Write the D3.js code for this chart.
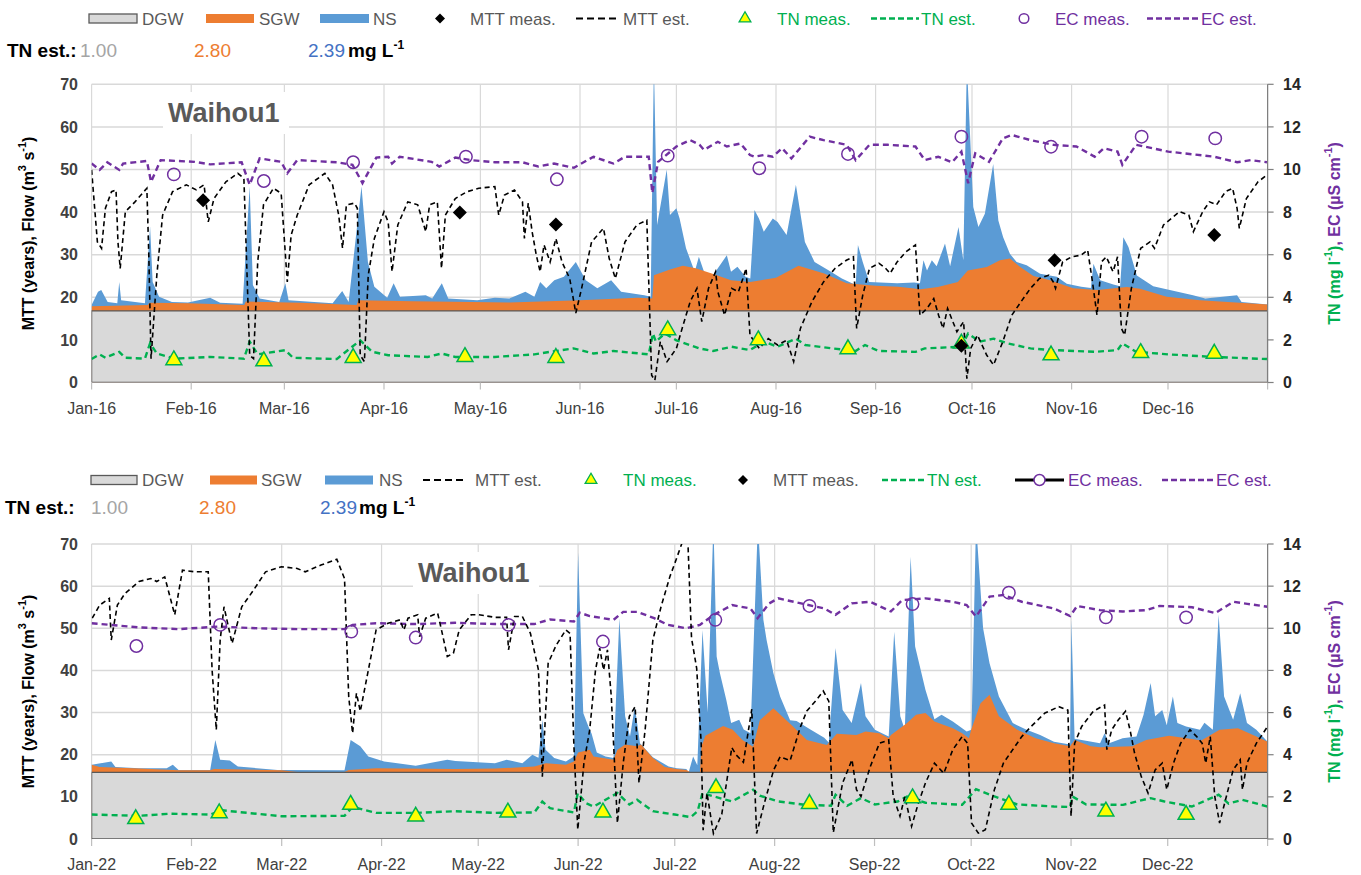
<!DOCTYPE html>
<html><head><meta charset="utf-8">
<script src="https://cdn.jsdelivr.net/npm/d3@7"></script>
<style>body{margin:0;background:#fff}svg{display:block;font-family:"Liberation Sans",Arial,sans-serif}</style>
</head><body><svg id="c" width="1361" height="875"></svg>
<script>
// ---------------- DATA ----------------
const leftTicks = [0,10,20,30,40,50,60,70];
const rightTicks = [0,2,4,6,8,10,12,14];
const tnEstLabels = ["1.00","2.80","2.39"];
const siteName = "Waihou1";
const dgwFlow = [16.8, 15.8]; // 2016, 2022

// 2016 — [day of year, value]
const sgwTop16 = [[0,17.9],[17.5,18.2],[18,18.7],[30,18.6],[47.5,18.2],[48,19.0],[65,18.7],[82.5,18.2],[83,19.3],[100,19.1],[130,18.8],[152,19.3],[170,19.9],[174.5,19.7],[175,25.2],[180,26.5],[184,27.4],[188,26.8],[193,25.6],[199,24.0],[205,23.6],[213,24.6],[220,27.4],[228,25.6],[235,23.3],[244,22.7],[251,22.5],[258,21.9],[263.4,22.4],[269.6,23.6],[272.7,26.3],[278.6,27.1],[282.7,28.7],[285.8,29.1],[289,27.1],[293.1,25],[298.3,24],[305.5,22.1],[313,21.7],[322.2,22.4],[326.3,22],[334.6,20.1],[345,19.3],[366,18.3]];
const nsTop16 = [[0,18.2],[2,21.3],[3,21.7],[5,18.9],[8,18.6],[8.6,23.6],[9.2,19.3],[16.6,18.6],[18.2,36.6],[19,23.6],[21,20.1],[25,18.9],[30,18.8],[36.9,19.9],[40,18.7],[47,18.5],[49.2,46],[50.2,22.9],[52.3,19.7],[58.4,18.9],[60.3,23.3],[61.3,19.3],[75,18.6],[78,21.5],[80,18.9],[84,46],[86,28.3],[88,22.5],[92,19.9],[94,23.3],[96,20.1],[104,20.5],[106,19.7],[109,23.3],[111,19.7],[120,19.3],[125.5,19.9],[130,19.7],[135,21.3],[137.8,20.1],[139.6,23.6],[141.5,22.1],[144,24.0],[147,24.8],[150.7,28.3],[153.8,24.0],[157.4,22.1],[161.7,24.0],[164.8,21.3],[172,20.5],[174,20.1],[175,75],[176,37],[179,50],[180,39.3],[182,40.9],[183,38.5],[185,31.5],[187.7,26],[189,29.5],[190.6,26],[193.4,25.2],[197.7,29.9],[199,26],[201,27.2],[203.5,24.8],[205,24.4],[206.3,40.5],[207.7,38.5],[209.2,35.4],[212,38.5],[213.5,37.7],[216.3,34.6],[219.2,46.4],[222,33],[225,28.3],[229.2,26.4],[233.5,24.4],[237.8,22.9],[238.5,32.3],[240,28.3],[242,23.6],[250.7,23.3],[256,23.5],[257.8,23.3],[258.9,28.7],[260,26.3],[261.5,28.7],[263,27.3],[265.6,32.6],[267.2,27.3],[269.8,36.5],[271.3,28.7],[272.4,75],[274.4,41.2],[276,36.5],[278,39.6],[280.6,51.3],[282.2,38],[283.7,34.1],[285.8,30.2],[287.9,28.3],[291,27.5],[295.2,25.5],[300.4,24.8],[303.5,23.2],[308,22.5],[311,22.2],[311.8,27.9],[313.9,24],[318,23],[320.1,22.6],[321.1,34.1],[322.7,31.8],[325.3,25.1],[330.4,22.6],[342.8,20.5],[346.6,19.7],[356.5,20.5],[357.9,18.9],[366,18.3]];
const mttEst16 = [[0,49.9],[1.8,33],[3.1,31.5],[4.3,40.9],[6.2,44.8],[7.6,45.2],[8.2,33],[8.9,26.8],[10.5,40.1],[13.5,42.4],[17.2,45.6],[17.8,30],[18.5,5.6],[20.3,25.2],[22.1,39.3],[25.2,44.8],[29.5,46.4],[32.6,45.2],[35,46.4],[36.3,37.7],[38.1,43.2],[41.8,47.1],[45.5,49.1],[47.4,47.9],[49.2,6.4],[50.4,5.6],[51.7,28.3],[53.5,41.7],[56.6,45.6],[59,44.4],[60.9,23.6],[62.1,34.6],[64,39.3],[67.7,46.4],[72.6,49.1],[75,46.4],[76.9,39.3],[78.1,31.5],[79.3,41.7],[81.8,42.1],[82.7,40.9],[83.6,6.4],[84.9,4.9],[86.1,25.2],[88,33.8],[91,40.1],[92.3,37.7],[93.5,26],[95.3,37],[98.4,42.4],[101.5,41.7],[104,35.4],[105.2,41.7],[107.6,42.4],[108.9,26.8],[110.1,39.3],[113.2,43.2],[116.9,44.8],[120.5,45.6],[125.5,46],[126.7,39.3],[128.5,44],[131.6,45.2],[134.1,42.4],[134.7,33.8],[135.9,42.1],[137.1,35.4],[138.4,29.9],[139.6,26],[140.8,32.3],[142.7,28.3],[144.5,33.8],[146.4,28.3],[148.8,24.4],[150.7,16.3],[152.5,22.1],[155.6,33],[159.3,36.2],[161.1,29.1],[163,24.4],[166,33],[169.7,37],[172.8,38.1],[174.3,1.7],[175.3,0.5],[177,9.6],[179.1,4.9],[182,8],[184.1,13.5],[186.3,19],[188.4,22.1],[189.9,14.3],[192,22.1],[194.2,26],[194.9,21.3],[197,15.8],[199.2,22.1],[201.3,21.3],[202.7,24.4],[203.7,26.8],[204.9,11.1],[206.3,9.6],[207.8,8],[210.6,10.3],[213.5,8.8],[216.3,9.9],[218.5,4.9],[220.6,12.7],[224.2,19],[227.8,23.6],[231.4,26.8],[234.9,28.7],[237.1,29.5],[238.1,12.7],[240,20.5],[242.1,26.8],[245,28],[247.1,26.8],[248.5,25.6],[250.7,28.3],[253.5,30.7],[256.4,32.3],[257.8,15.8],[260,17.4],[262.1,19.7],[263.6,15.8],[265,12.7],[266.4,17.4],[269.3,11.9],[271.4,14.3],[272.4,0.9],[273.6,8],[275.7,11.1],[278.6,6.4],[280.7,4.1],[283.6,9.6],[286.4,15.8],[289.3,19],[292.2,22.1],[295,24.4],[297.9,25.2],[299.3,23.6],[300,22.1],[302.2,28.3],[305,29.5],[308,29.9],[310,31.1],[311.5,23.6],[312.9,15.8],[314.3,28.3],[315.8,29.5],[317.9,26],[319.3,29.5],[320.5,12.7],[321.5,11.1],[323.6,22.1],[326.5,31.5],[329.4,33],[330.8,31.5],[333.6,37],[338.6,40.1],[341.5,39.3],[342.9,35.4],[345.8,40.1],[347.9,42.4],[350.1,41.7],[352.9,44.8],[355.1,45.6],[356.5,40.9],[357.2,36.2],[359.4,43.2],[363,47.1],[365.8,48.7]];
const mttMeas16 = [[34.7,42.8],[114.6,39.9],[144.5,37.1],[270.7,8.6],[299.7,28.7],[349.4,34.6]];
const tnMeas16 = [[25.6,1.05],[53.6,1.0],[81.4,1.16],[116.2,1.2],[144.5,1.16],[179.3,2.46],[207.5,1.99],[235.4,1.57],[270.7,1.83],[298.6,1.28],[326.5,1.39],[349.4,1.36]];
const tnEst16 = [[0,1.1],[2.5,1.32],[4.3,1.16],[8.6,1.44],[10.5,1.16],[16.6,1.12],[18.2,1.84],[20.3,1.36],[25.8,1.12],[36.9,1.2],[47.4,1.12],[49.2,1.92],[51.7,1.32],[60.3,1.52],[62.7,1.16],[76.3,1.1],[83.6,1.98],[87.3,1.44],[92.3,1.28],[104.6,1.2],[108.9,1.36],[113.2,1.2],[125.5,1.2],[137.8,1.32],[142.7,1.44],[150,1.6],[156.2,1.36],[162.4,1.48],[173.4,1.32],[174.7,2.3],[175.6,1.92],[178.4,2.3],[182,1.98],[189.2,1.6],[193.4,1.48],[199.2,1.68],[204.9,1.52],[209.2,1.92],[213.5,1.68],[219.2,2.06],[222.1,1.76],[230.6,1.6],[237.8,1.48],[240.7,1.76],[244.9,1.48],[256.4,1.44],[259.3,1.6],[270.7,1.68],[272.8,2.3],[276.4,1.92],[280.7,2.06],[285,1.84],[292.2,1.6],[299.3,1.52],[312.2,1.44],[319.3,1.52],[320.8,1.84],[325.1,1.44],[335.1,1.32],[349.4,1.2],[365.8,1.1]];
const ecMeas16 = [[25.6,9.77],[53.6,9.46],[81.4,10.34],[116.5,10.6],[144.8,9.54],[179.3,10.65],[207.8,10.06],[235.4,10.73],[270.7,11.54],[298.6,11.07],[326.8,11.54],[349.7,11.46]];
const ecEst16 = [[0,10.28],[2.5,9.98],[4.9,10.34],[8.6,9.98],[9.8,10.28],[17.2,10.4],[18.5,9.42],[21.5,10.44],[32,10.36],[36.9,10.24],[46.7,10.34],[49.2,9.28],[52.3,10.52],[59,10.36],[60.9,9.82],[64,10.44],[76.3,10.34],[81.2,10.22],[84.3,9.36],[88.6,10.56],[92.3,10.6],[93.5,10.28],[95.9,10.6],[105.8,10.36],[108.2,10.14],[113.2,10.56],[118.1,10.44],[125.5,10.34],[134.1,10.34],[139,10.14],[143.9,10.28],[150.1,10.08],[156.2,10.6],[162.4,10.28],[166,10.6],[173.4,10.6],[174.5,8.9],[176.3,10.36],[182,11.08],[186.3,11.38],[189.2,11.16],[190.6,10.92],[194.9,11.3],[197.7,11.08],[202,11.22],[204.9,10.68],[206.3,10.6],[209.2,10.68],[212,10.6],[214.9,11.0],[217.8,10.52],[223.5,11.54],[227.8,11.38],[235,11.16],[237.8,10.44],[242.1,11.16],[247.8,11.16],[256.4,11.08],[259.3,10.44],[263.5,10.6],[267.8,10.34],[270.7,10.84],[272.8,9.36],[275,10.76],[279.3,10.36],[283.6,11.46],[286.4,11.62],[292.2,11.38],[299.3,11.16],[306.5,11.08],[312.2,10.6],[315,11.0],[319.3,10.84],[320.8,10.22],[325.1,11.16],[335.1,10.84],[349.4,10.6],[356.5,10.34],[360.8,10.44],[365.8,10.34]];

// 2022
const sgwTop22 = [[0,17.6],[2.5,17.1],[14.7,16.7],[27,16.3],[36.8,16.3],[38,16.6],[58.9,16.3],[63.8,15.9],[78.5,15.9],[79.8,16.4],[88.3,16.8],[112.9,16.6],[125.2,16.7],[137.4,17.2],[141,18],[147.2,17.6],[149.7,18.4],[151,20.5],[154.6,21.2],[155.8,19.6],[162,18.8],[163.2,21.2],[165.6,22.4],[169.3,22],[170.5,22.4],[174.2,19.2],[177.9,17.1],[181.6,16.6],[184.6,16.4],[186,15.8],[188.8,15.8],[189.3,22],[190.5,24.5],[196,26.8],[199,25.9],[202,23.5],[205.3,21.9],[207.4,28.2],[211.6,31],[217.7,26.7],[222,23.5],[228.2,22.3],[231.3,25],[237.4,24.7],[240.2,25.5],[244.5,25.1],[247.4,23.9],[248.1,24.7],[253.1,27.5],[255.9,29.5],[258.8,29.9],[261.6,27.9],[267.3,26.3],[270.2,25.1],[272.3,23.9],[273,25.9],[275.9,32.2],[278.7,34.2],[281.6,29.1],[287.3,25.9],[293,23.9],[298.7,22.7],[303.7,22],[305.1,23.5],[310.1,22],[313,21.8],[323,22],[327.3,23.5],[334.4,24.5],[341.5,23.7],[344.4,23.4],[350.1,25.9],[355.8,26.3],[361.5,24.3],[365,23.1]];
const nsTop22 = [[0,17.6],[6.1,18.4],[7.4,17.1],[14.7,16.8],[23.3,16.8],[25.2,17.6],[27,16.4],[36.8,16.4],[38.4,23.5],[39.9,18.8],[42.9,18.6],[45.4,17.2],[57.7,16.4],[78.5,16.3],[80.4,23.5],[83.4,22],[85.9,19.6],[90.8,18.4],[100.6,17.4],[110.4,18.8],[112.9,18.5],[125.2,18],[128.8,18.8],[133.7,18],[136.8,20],[138.7,19.3],[139.9,28.3],[140.9,21.2],[143.6,19.2],[147.2,18.4],[149.7,19.6],[151,68],[152.6,29.9],[154.2,26.7],[155.2,25],[156.8,20.5],[159.5,19.6],[162,19.2],[163.8,52.4],[165.6,29.1],[167.1,24.3],[168.6,31.4],[170.2,22.7],[174.2,19.4],[179.1,17.2],[181.6,16.8],[184.6,16.6],[185.3,15.8],[186.7,19.6],[188,17.5],[189.6,49.6],[191.2,30],[193,75],[194,43.3],[195,39.4],[197,33],[198.5,27.5],[201,28.3],[202.4,26],[204.5,25.1],[206.8,75],[208.5,52],[209.5,47.2],[211.6,39.4],[213.7,33.8],[216.8,28.2],[218.8,28],[223.1,26],[227.4,24],[228.8,22.9],[230.9,45.3],[233.1,30.6],[235.9,27.5],[238.8,37],[240.2,29.1],[243.1,25.9],[247.4,24.3],[249.1,49.2],[251,29.1],[252.4,25.9],[254.2,67],[255.6,45.7],[258.8,35.4],[261.6,28.4],[263.8,29.5],[267.3,27.9],[271.6,25.5],[273.1,25.9],[274.5,75],[276.7,50],[278.7,41.7],[281.6,33.8],[285.9,27.5],[290.2,25.9],[294.4,24.7],[298.7,23.1],[303.7,22.4],[304.1,52],[305.1,23.8],[313,22.7],[314.4,25.1],[315.8,22.7],[320,23.9],[324.3,24.3],[326.5,29.5],[328.7,37],[330.1,29.1],[332.3,30.6],[333.7,27],[335.6,33.8],[337,27.5],[339.7,26.7],[344,25.9],[345.4,27.6],[348,25.9],[349.8,53.2],[351.5,33.8],[354.3,28.3],[356.5,34.6],[358.6,27.5],[361.5,25.9],[365,23.1]];
const mttEst22 = [[0.2,52.4],[2.5,55.5],[5.5,57.1],[6.1,47.2],[8,55.5],[10.4,58.3],[14.7,61.1],[18.4,61.8],[20.2,61.1],[22.7,62.2],[25.8,53.2],[28.2,63.8],[31.9,63.4],[36.2,63.4],[37.4,40.1],[38.7,25.9],[39.9,47.2],[41.1,55.1],[43.6,46.4],[46.6,55.1],[50.3,59.1],[54,63.4],[58.9,64.6],[63.8,64.2],[66.3,63.4],[71.2,65],[76.1,66.4],[78.5,61.8],[79.8,33.8],[81,25.1],[82.2,34.6],[83.4,30.3],[85.9,40.1],[88.3,49.6],[92,51.2],[95.7,52],[96.9,49.6],[98.2,52.4],[101.2,53.2],[101.8,48],[103.7,52.4],[107.4,53.6],[108.6,49.6],[110.4,43.3],[112.3,44.1],[114.1,49.6],[117.8,53.2],[120.2,53.2],[125.2,52.6],[128.8,52.6],[129.4,44.9],[131.3,52.8],[133.7,52.8],[136.2,48.8],[138.7,40.1],[139.9,14.8],[141.7,41.7],[144.2,46],[147.2,49.6],[148.5,48.8],[149.7,22],[150.9,2.2],[152.8,18],[154.6,25.9],[156.4,40.1],[157.7,45.3],[158.9,40.1],[160.1,44.9],[161.3,33.8],[163.2,3.8],[165,18],[166.9,29.1],[168.7,31.4],[169.9,13.3],[171.8,25.9],[174.2,47.2],[176.7,55],[179.5,62.3],[181,65.4],[183.6,71],[185,72],[186.2,47.7],[187.8,40.5],[189.2,22.8],[189.8,2.1],[191,10.9],[193,1.3],[195.6,5.9],[198.7,21.7],[200,20],[202.3,18.2],[204.9,30.8],[206.4,1.3],[208.8,8.5],[211.7,16.4],[213.7,19.5],[216.8,18.6],[219.9,26.4],[222,30.4],[225,33],[227.1,35.1],[228.8,32.7],[230.2,1.5],[233.1,13.3],[236,18.8],[237.4,11.7],[238.8,10.1],[241.7,17.2],[244.5,22.7],[247.4,23.5],[248.8,10.1],[250.9,5.4],[252.4,10.1],[254.5,3],[256.6,8.5],[258.8,13.3],[261.6,18],[264.5,15.6],[267.3,21.2],[270.2,24.3],[271.9,22.7],[273.1,3.8],[275.2,1.4],[277.4,2.2],[280.2,11.7],[283,18],[285.9,21.2],[288.7,24.3],[291.6,26.7],[295.9,29.9],[300.2,31.4],[303,30.6],[304,5.4],[305.1,22.7],[307.3,26.7],[310.9,30.3],[314.4,31.8],[315.1,21.2],[316.6,25.9],[318.7,28.3],[320.9,30.3],[322.3,25.9],[323.7,20.4],[325.8,14.8],[327.9,10.9],[330.1,16.4],[332.3,18],[333.7,11.7],[335.8,18],[338,22.7],[340.9,25.9],[343,24.3],[344.7,22.7],[345.8,18],[347.2,24.3],[348.6,10.1],[350.1,3.8],[352.2,10.1],[354.3,16.4],[356.5,18.8],[357.2,11.7],[358.6,18],[361.5,22.7],[365,26.7]];
const mttMeas22 = [];
const tnMeas22 = [[13.7,0.95],[39.6,1.23],[80.4,1.63],[100.6,1.07],[129.2,1.26],[158.7,1.26],[193.8,2.42],[222.8,1.67],[254.8,1.94],[284.7,1.63],[314.8,1.31],[339.7,1.15]];
const tnEst22 = [[0,1.16],[14.7,1.1],[24.5,1.2],[36.8,1.16],[40.5,1.36],[58.9,1.08],[78.5,1.1],[81,1.52],[88.3,1.24],[100.6,1.24],[112.9,1.32],[125.2,1.24],[137.4,1.26],[139.9,1.78],[142.3,1.46],[149.7,1.26],[150.9,2.18],[153.4,1.7],[155.8,1.54],[163.2,2.18],[166.9,1.64],[169.3,1.86],[174.2,1.32],[181,1.16],[186,1.04],[188.1,1.32],[189.6,2.18],[193.1,2.02],[198.8,1.78],[205.3,2.34],[207.4,2.06],[213.1,1.78],[221.7,1.62],[229.5,1.58],[230.9,2.1],[234.5,1.58],[238.8,1.94],[243.1,1.64],[250.2,1.78],[253.1,2.02],[258.8,1.72],[270.2,1.62],[274.5,2.36],[280.2,2.02],[287.3,1.64],[298.7,1.54],[303.7,1.52],[304.4,2.02],[308.7,1.64],[320.1,1.62],[328.7,1.94],[333,1.78],[341.5,1.54],[349.8,2.1],[352.9,1.68],[357.2,1.86],[365,1.54]];
const ecMeas22 = [[13.9,9.16],[39.9,10.16],[80.6,9.84],[100.6,9.56],[129.4,10.16],[158.7,9.37],[193.6,10.4],[222.8,11.06],[254.8,11.15],[284.7,11.69],[314.8,10.52],[339.7,10.52]];
const ecEst22 = [[0,10.24],[14.7,10.04],[27,9.96],[39.3,10.08],[51.5,10],[63.8,9.96],[78.5,9.96],[81,10.16],[88.3,10.24],[100.6,10.2],[112.9,10.26],[125.2,10.2],[137.4,10.2],[142.3,10.42],[149.7,10.32],[151.5,10.74],[154.6,10.58],[162,10.4],[165,10.78],[169.3,10.78],[174.6,10.48],[178.9,10.16],[184.6,10.0],[188.8,10.16],[193.1,10.64],[198.8,11.1],[204.5,10.94],[206.7,10.48],[210.3,11.18],[213.1,11.42],[220.2,11.18],[227.4,10.94],[230.9,10.64],[235.9,11.18],[241.6,11.26],[248.1,10.8],[251.6,11.34],[258.8,11.42],[267.3,11.26],[271.6,11.1],[274.5,10.56],[278.7,11.5],[283,11.58],[288.7,11.26],[298.7,10.94],[303.7,10.58],[305.9,11.06],[313,10.86],[320.1,10.8],[327.3,10.86],[331.5,11.06],[341.5,11],[348.7,10.72],[354.4,11.26],[358.7,11.16],[365,11.02]];

// ---------------- DRAWING ----------------
const GREEN = "#00b050", PURPLE = "#7030a0", ORANGE = "#ed7d31", BLUE = "#5b9bd5", GRAY = "#d9d9d9", TXT = "#595959";
const X0 = 91.6, X1 = 1267.6;
const svg = d3.select("#c");

function drawPanel(p, idx) {
  const start = new Date(p.year, 0, 1), end = new Date(p.year + 1, 0, 1);
  const nDays = Math.round((end - start) / 864e5);
  const dt = d => new Date(start.getTime() + d * 864e5);
  const x = d3.scaleTime().domain([start, end]).range([X0, X1]);
  const y = d3.scaleLinear().domain([0, 70]).range([p.y0, p.y1]);
  const yr = d3.scaleLinear().domain([0, 14]).range([p.y0, p.y1]);
  const g = svg.append("g");

  const cid = "clip" + idx;
  svg.append("clipPath").attr("id", cid).append("rect")
    .attr("x", X0).attr("y", p.y1).attr("width", X1 - X0).attr("height", p.y0 - p.y1);

  g.selectAll(".hg").data(leftTicks.filter(v => v > 0)).join("line")
    .attr("x1", X0).attr("x2", X1).attr("y1", d => y(d)).attr("y2", d => y(d))
    .attr("stroke", GRAY).attr("stroke-width", 1.5);
  const months = d3.timeMonth.range(start, new Date(p.year + 1, 0, 2));
  g.selectAll(".vg").data(months).join("line")
    .attr("x1", d => x(d)).attr("x2", d => x(d)).attr("y1", p.y1).attr("y2", p.y0)
    .attr("stroke", GRAY).attr("stroke-width", 1.2);

  g.append("rect").attr("x", p.titleX - 5).attr("y", p.titleY - 30).attr("width", 126).attr("height", 42).attr("fill", "#fff");

  const pg = g.append("g").attr("clip-path", `url(#${cid})`);
  const areaGen = d3.area().x(d => x(dt(d[0]))).y0(y(0)).y1(d => y(d[1]));
  pg.append("path").attr("d", areaGen(p.ns)).attr("fill", BLUE);
  pg.append("path").attr("d", areaGen(p.sgw)).attr("fill", ORANGE);
  pg.append("path").attr("d", areaGen([[0, p.dgw], [nDays, p.dgw]]))
    .attr("fill", GRAY).attr("stroke", "#595959").attr("stroke-width", 1.3);

  const lineL = d3.line().x(d => x(dt(d[0]))).y(d => y(d[1]));
  const lineR = d3.line().x(d => x(dt(d[0]))).y(d => yr(d[1]));
  pg.append("path").attr("d", lineR(p.ecEst)).attr("fill", "none").attr("stroke", PURPLE).attr("stroke-width", 2.4).attr("stroke-dasharray", "6,4");
  pg.append("path").attr("d", lineR(p.tnEst)).attr("fill", "none").attr("stroke", GREEN).attr("stroke-width", 2.4).attr("stroke-dasharray", "6,4");
  pg.append("path").attr("d", lineL(p.mttEst)).attr("fill", "none").attr("stroke", "#000").attr("stroke-width", 1.6).attr("stroke-dasharray", "5,3.5");

  const tri = d3.symbol(d3.symbolTriangle, 110)();
  pg.selectAll(".tn").data(p.tnMeas).join("path").attr("d", tri)
    .attr("transform", d => `translate(${x(dt(d[0]))},${yr(d[1])})`)
    .attr("fill", "#ffff00").attr("stroke", GREEN).attr("stroke-width", 1.5);
  const sq = d3.symbol(d3.symbolSquare, 98)();
  pg.selectAll(".mt").data(p.mttMeas).join("path").attr("d", sq)
    .attr("transform", d => `translate(${x(dt(d[0]))},${y(d[1])}) rotate(45)`)
    .attr("fill", "#000");
  pg.selectAll(".ec").data(p.ecMeas).join("circle")
    .attr("cx", d => x(dt(d[0]))).attr("cy", d => yr(d[1])).attr("r", 6.2)
    .attr("fill", "none").attr("stroke", PURPLE).attr("stroke-width", 1.5);

  g.selectAll(".mtick").data(months).join("line")
    .attr("x1", d => x(d)).attr("x2", d => x(d)).attr("y1", p.y0).attr("y2", p.y0 + 7)
    .attr("stroke", "#bfbfbf").attr("stroke-width", 1.2);
  g.selectAll(".mlab").data(months.slice(0, 12)).join("text")
    .attr("x", d => x(d)).attr("y", p.y0 + 31).attr("text-anchor", "middle")
    .attr("font-size", 16).attr("fill", "#404040").text(d3.timeFormat("%b-%y"));
  g.selectAll(".ll").data(leftTicks).join("text")
    .attr("x", 78).attr("y", d => y(d)).attr("dy", "0.35em").attr("text-anchor", "end")
    .attr("font-size", 16).attr("font-weight", "bold").attr("fill", "#404040").text(d => d);
  g.append("line").attr("x1", X1).attr("x2", X1).attr("y1", p.y1).attr("y2", p.y0).attr("stroke", "#7f7f7f").attr("stroke-width", 1.2);
  g.selectAll(".rt").data(rightTicks).join("line")
    .attr("x1", X1).attr("x2", X1 + 6).attr("y1", d => yr(d)).attr("y2", d => yr(d))
    .attr("stroke", "#7f7f7f").attr("stroke-width", 1.2);
  g.selectAll(".rl").data(rightTicks).join("text")
    .attr("x", 1283).attr("y", d => yr(d)).attr("dy", "0.35em")
    .attr("font-size", 16).attr("font-weight", "bold").attr("fill", "#262626").text(d => d);

  const yc = (p.y0 + p.y1) / 2;
  const lt = g.append("text").attr("transform", `translate(28,${yc}) rotate(-90)`)
    .attr("text-anchor", "middle").attr("dominant-baseline", "central")
    .attr("font-size", 16).attr("font-weight", "bold").attr("fill", "#000");
  lt.append("tspan").text("MTT (years), Flow (m");
  lt.append("tspan").attr("font-size", 11).attr("dy", -6).text("3");
  lt.append("tspan").attr("dy", 6).text(" s");
  lt.append("tspan").attr("font-size", 11).attr("dy", -6).text("-1");
  lt.append("tspan").attr("dy", 6).text(")");
  const rt = g.append("text").attr("transform", `translate(1334,${yc}) rotate(-90)`)
    .attr("text-anchor", "middle").attr("dominant-baseline", "central")
    .attr("font-size", 16).attr("font-weight", "bold");
  rt.append("tspan").attr("fill", GREEN).text("TN (mg l");
  rt.append("tspan").attr("fill", GREEN).attr("font-size", 11).attr("dy", -6).text("-1");
  rt.append("tspan").attr("fill", GREEN).attr("dy", 6).text(")");
  rt.append("tspan").attr("fill", PURPLE).text(", EC (µS cm");
  rt.append("tspan").attr("fill", PURPLE).attr("font-size", 11).attr("dy", -6).text("-1");
  rt.append("tspan").attr("fill", PURPLE).attr("dy", 6).text(")");

  g.append("text").attr("x", p.titleX).attr("y", p.titleY).attr("font-size", 27)
    .attr("font-weight", "bold").attr("fill", TXT).text(siteName);

  const ly = p.legY;
  p.legend.forEach(it => {
    const c = it.c || TXT;
    if (it.t === "box") {
      g.append("rect").attr("x", it.x).attr("y", ly - 4.5).attr("width", it.w).attr("height", 9)
        .attr("fill", it.fill).attr("stroke", it.stroke || "none").attr("stroke-width", 1.3);
    } else if (it.t === "diamond") {
      g.append("path").attr("d", d3.symbol(d3.symbolSquare, 50)())
        .attr("transform", `translate(${it.x},${ly}) rotate(45)`).attr("fill", "#000");
    } else if (it.t === "dash") {
      g.append("line").attr("x1", it.x).attr("x2", it.x + it.w).attr("y1", ly).attr("y2", ly)
        .attr("stroke", it.color).attr("stroke-width", it.color === "#000" ? 1.8 : 2.4).attr("stroke-dasharray", it.color === "#000" ? "7,4" : "6,3");
    } else if (it.t === "tri") {
      g.append("path").attr("d", d3.symbol(d3.symbolTriangle, 60)())
        .attr("transform", `translate(${it.x},${ly})`).attr("fill", "#ffff00").attr("stroke", GREEN).attr("stroke-width", 1.3);
    } else if (it.t === "circle") {
      g.append("circle").attr("cx", it.x).attr("cy", ly).attr("r", 4.8).attr("fill", "none").attr("stroke", PURPLE).attr("stroke-width", 1.5);
    } else if (it.t === "lineCircle") {
      g.append("line").attr("x1", it.x).attr("x2", it.x + it.w).attr("y1", ly).attr("y2", ly).attr("stroke", "#000").attr("stroke-width", 2.8);
      g.append("circle").attr("cx", it.x + it.w / 2).attr("cy", ly).attr("r", 5.5).attr("fill", "#fff").attr("stroke", PURPLE).attr("stroke-width", 1.5);
    }
    g.append("text").attr("x", it.tx).attr("y", ly + 6).attr("font-size", 17).attr("fill", c).text(it.label);
  });

  const ry = p.rowY, rx = p.rowX;
  g.append("text").attr("x", rx[0]).attr("y", ry).attr("font-size", 19).attr("font-weight", "bold").attr("fill", "#000").text("TN est.:");
  const cols = ["#a5a5a5", ORANGE, "#4472c4"];
  tnEstLabels.forEach((t, i) => g.append("text").attr("x", rx[i + 1]).attr("y", ry).attr("font-size", 19).attr("fill", cols[i]).text(t));
  const mg = g.append("text").attr("x", rx[4]).attr("y", ry).attr("font-size", 19).attr("font-weight", "bold").attr("fill", "#000");
  mg.append("tspan").text("mg L");
  mg.append("tspan").attr("font-size", 12).attr("dy", -8).text("-1");
}

const legendTop = [
  {t:"box", x:89, w:48, fill:GRAY, stroke:"#595959", label:"DGW", tx:142},
  {t:"box", x:206, w:48, fill:ORANGE, label:"SGW", tx:259},
  {t:"box", x:320, w:49, fill:BLUE, label:"NS", tx:373},
  {t:"diamond", x:440, label:"MTT meas.", tx:470},
  {t:"dash", x:576, w:42, color:"#000", label:"MTT est.", tx:623},
  {t:"tri", x:745, label:"TN meas.", tx:777, c:GREEN},
  {t:"dash", x:871, w:48, color:GREEN, label:"TN est.", tx:921, c:GREEN},
  {t:"circle", x:1024, label:"EC meas.", tx:1055, c:PURPLE},
  {t:"dash", x:1147, w:52, color:PURPLE, label:"EC est.", tx:1201, c:PURPLE}
];
const legendBottom = [
  {t:"box", x:91, w:46, fill:GRAY, stroke:"#595959", label:"DGW", tx:142},
  {t:"box", x:210, w:47, fill:ORANGE, label:"SGW", tx:261},
  {t:"box", x:325, w:48, fill:BLUE, label:"NS", tx:379},
  {t:"dash", x:423, w:44, color:"#000", label:"MTT est.", tx:475},
  {t:"tri", x:591, label:"TN meas.", tx:623, c:GREEN},
  {t:"diamond", x:743, label:"MTT meas.", tx:773},
  {t:"dash", x:882, w:43, color:GREEN, label:"TN est.", tx:927, c:GREEN},
  {t:"lineCircle", x:1015, w:49, label:"EC meas.", tx:1068, c:PURPLE},
  {t:"dash", x:1162, w:51, color:PURPLE, label:"EC est.", tx:1216, c:PURPLE}
];

const panels = [
  {year:2016, y0:382.5, y1:84.3, dgw:dgwFlow[0], sgw:sgwTop16, ns:nsTop16, mttEst:mttEst16, mttMeas:mttMeas16,
   tnMeas:tnMeas16, tnEst:tnEst16, ecMeas:ecMeas16, ecEst:ecEst16, titleX:168, titleY:122,
   legY:18.5, legend:legendTop, rowY:57, rowX:[7,80,194,308,348]},
  {year:2022, y0:839, y1:544, dgw:dgwFlow[1], sgw:sgwTop22, ns:nsTop22, mttEst:mttEst22, mttMeas:mttMeas22,
   tnMeas:tnMeas22, tnEst:tnEst22, ecMeas:ecMeas22, ecEst:ecEst22, titleX:418, titleY:582,
   legY:480, legend:legendBottom, rowY:514, rowX:[5,91,199,320,359]}
];
panels.forEach(drawPanel);
</script></body></html>
